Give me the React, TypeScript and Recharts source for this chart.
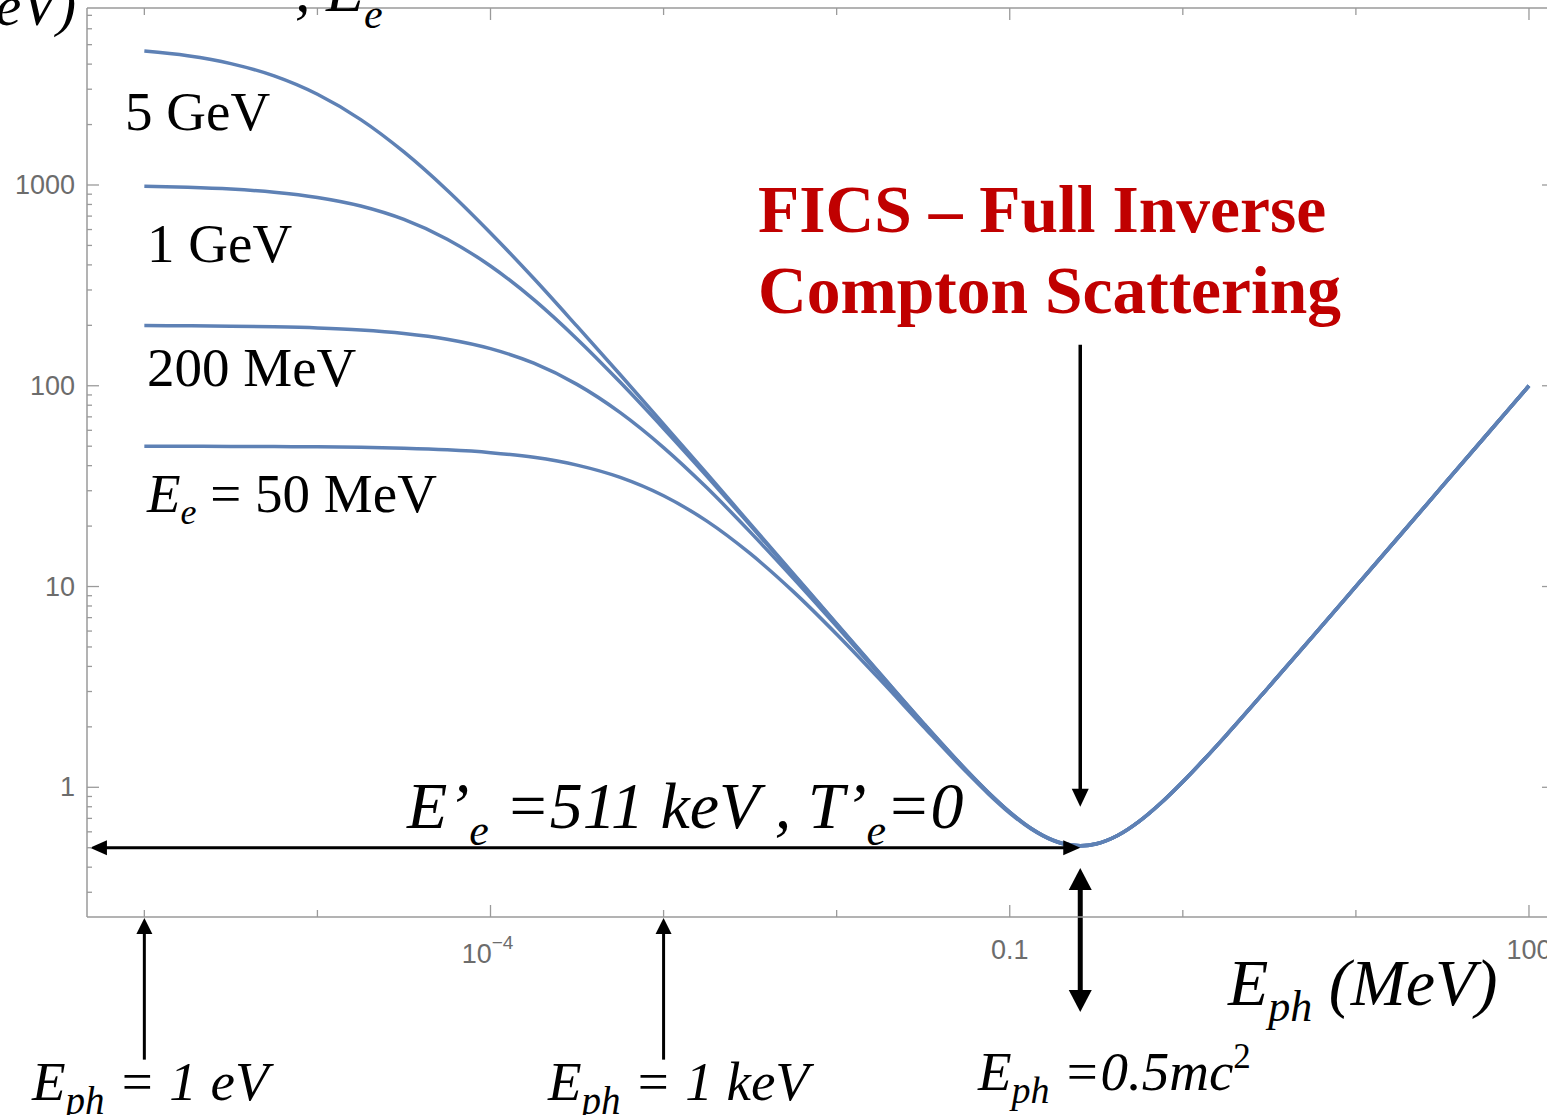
import React from 'react';
import { ComposedChart, Line, XAxis, YAxis, ReferenceLine } from 'recharts';

// Photon energy E_ph (MeV)
const eph = [1e-6, 1.78e-6, 3.16e-6, 5.62e-6, 1e-5, 1.78e-5, 3.16e-5, 5.62e-5, 1e-4, 1.78e-4,
  3.16e-4, 5.62e-4, 1e-3, 1.78e-3, 3.16e-3, 5.62e-3, 0.01, 0.0178, 0.0316, 0.0562,
  0.075, 0.1, 0.133, 0.178, 0.2, 0.256, 0.316, 0.42, 0.562, 0.75,
  1, 1.33, 1.78, 3.16, 5.62, 10, 17.8, 31.6, 56.2, 100];

// E'_e (MeV) for each initial electron energy
const e5000 = [4644, 4401, 4025, 3495, 2831, 2117, 1461, 942, 577, 342,
  198, 113.5, 64.4, 36.45, 20.56, 11.59, 6.53, 3.687, 2.095, 1.217,
  0.945, 0.753, 0.624, 0.545, 0.526, 0.511, 0.523, 0.575, 0.678, 0.837,
  1.065, 1.379, 1.815, 3.183, 5.635, 10.01, 17.8, 31.6, 56.2, 100];
const e1000 = [985, 973.5, 953.8, 920.7, 867.2, 785.9, 673.7, 537.2, 395, 268.5,
  171.1, 104, 61.28, 35.42, 20.23, 11.48, 6.495, 3.676, 2.092, 1.216,
  0.945, 0.752, 0.624, 0.545, 0.526, 0.511, 0.523, 0.575, 0.678, 0.837,
  1.065, 1.379, 1.815, 3.183, 5.635, 10.01, 17.8, 31.6, 56.2, 100];
const e200 = [199.4, 198.9, 198.1, 196.6, 194.1, 189.7, 182.3, 170.6, 153.1, 129.5,
  101.6, 73.45, 49.22, 31.02, 18.71, 10.98, 6.331, 3.623, 2.075, 1.21,
  0.942, 0.751, 0.623, 0.544, 0.526, 0.511, 0.522, 0.575, 0.678, 0.837,
  1.065, 1.379, 1.815, 3.183, 5.635, 10.01, 17.8, 31.6, 56.2, 100];
const e50 = [49.96, 49.93, 49.88, 49.79, 49.62, 49.33, 48.82, 47.94, 46.44, 44.01,
  40.25, 34.95, 28.31, 21.17, 14.61, 9.43, 5.784, 3.438, 2.014, 1.191,
  0.93, 0.744, 0.619, 0.542, 0.524, 0.51, 0.522, 0.575, 0.678, 0.837,
  1.065, 1.379, 1.815, 3.183, 5.635, 10.01, 17.8, 31.6, 56.2, 100];

const xTicks = [1e-6, 1e-5, 1e-4, 1e-3, 1e-2, 0.1, 1, 10, 100];
const xLabeled = [1e-4, 0.1, 100];
const yTicks = [0.3, 0.4, 0.5, 0.6, 0.7, 0.8, 0.9,
  1, 2, 3, 4, 5, 6, 7, 8, 9,
  10, 20, 30, 40, 50, 60, 70, 80, 90,
  100, 200, 300, 400, 500, 600, 700, 800, 900,
  1000, 2000, 3000, 4000, 5000, 6000, 7000];
const yMajor = [1, 10, 100, 1000];

const X_DOMAIN = [4.663e-7, 139.5];
const Y_DOMAIN = [0.2259, 7614];

const data = eph.map((x, i) => ({ eph: x, e50: e50[i], e200: e200[i], e1000: e1000[i], e5000: e5000[i] }));

const AXIS = '#9a9a9a';
const LABEL = '#6c6c6c';
const CURVE = '#5E81B5';
const SANS = '"Liberation Sans", Arial, sans-serif';
const SERIF = '"Liberation Serif", "Times New Roman", serif';

const isIn = (arr: number[], v: number) => arr.some((a) => Math.abs(a - v) / a < 1e-9);

const BottomTick = (p: any) => {
  const { x, y, payload } = p;
  const v = payload.value;
  const lab = isIn(xLabeled, v);
  let label: any = null;
  if (lab) {
    if (Math.abs(v - 1e-4) < 1e-12) {
      label = (
        <text x={x - 3} y={y + 46} textAnchor="middle" fontSize={27} fill={LABEL} fontFamily={SANS}>
          10<tspan dy={-14} fontSize={19}>−4</tspan>
        </text>
      );
    } else {
      label = (
        <text x={x} y={y + 42} textAnchor="middle" fontSize={27} fill={LABEL} fontFamily={SANS}>
          {v === 0.1 ? '0.1' : String(v)}
        </text>
      );
    }
  }
  return (
    <g>
      <line x1={x} y1={y} x2={x} y2={y - (lab ? 12 : 7)} stroke={AXIS} strokeWidth={1.3} />
      {label}
    </g>
  );
};

const TopTick = (p: any) => {
  const { x, y, payload } = p;
  const lab = isIn(xLabeled, payload.value);
  return <line x1={x} y1={y} x2={x} y2={y + (lab ? 12 : 7)} stroke={AXIS} strokeWidth={1.3} />;
};

const LeftTick = (p: any) => {
  const { x, y, payload } = p;
  const v = payload.value;
  const maj = isIn(yMajor, v);
  return (
    <g>
      <line x1={x} y1={y} x2={x + (maj ? 12 : 5)} y2={y} stroke={AXIS} strokeWidth={1.3} />
      {maj && (
        <text x={x - 12} y={y + 9} textAnchor="end" fontSize={27} fill={LABEL} fontFamily={SANS}>
          {String(v)}
        </text>
      )}
    </g>
  );
};

const RightTick = (p: any) => {
  const { x, y, payload } = p;
  const maj = isIn(yMajor, payload.value);
  return <line x1={x} y1={y} x2={x - (maj ? 12 : 5)} y2={y} stroke={AXIS} strokeWidth={1.3} />;
};

type ArrowSpec = { from: { x: number; y: number }; to: { x: number; y: number }; both: boolean; w: number; hl: number; hw: number };

const arrows: ArrowSpec[] = [
  { from: { x: 4.85e-7, y: 0.5 }, to: { x: 0.2555, y: 0.5 }, both: true, w: 3, hl: 17, hw: 15 },
  { from: { x: 0.2555, y: 160 }, to: { x: 0.2555, y: 0.8 }, both: false, w: 3.5, hl: 18, hw: 17 },
  { from: { x: 0.2555, y: 0.396 }, to: { x: 0.2555, y: 0.076 }, both: true, w: 5, hl: 22, hw: 23 },
  { from: { x: 1e-6, y: 0.044 }, to: { x: 1e-6, y: 0.2235 }, both: false, w: 3, hl: 16, hw: 16 },
  { from: { x: 1e-3, y: 0.044 }, to: { x: 1e-3, y: 0.2235 }, both: false, w: 3, hl: 16, hw: 16 },
];

const arrowShape = (a: ArrowSpec) => (p: any) => {
  const { x1, y1, x2, y2 } = p;
  const dx = x2 - x1;
  const dy = y2 - y1;
  const L = Math.hypot(dx, dy) || 1;
  const ux = dx / L;
  const uy = dy / L;
  const nx = -uy;
  const ny = ux;
  const head = (tx: number, ty: number, sx: number, sy: number) => {
    const bx = tx - sx * a.hl;
    const by = ty - sy * a.hl;
    return `${tx},${ty} ${bx + nx * a.hw / 2},${by + ny * a.hw / 2} ${bx - nx * a.hw / 2},${by - ny * a.hw / 2}`;
  };
  const sx0 = a.both ? x1 + ux * a.hl * 0.8 : x1;
  const sy0 = a.both ? y1 + uy * a.hl * 0.8 : y1;
  const ex = x2 - ux * a.hl * 0.8;
  const ey = y2 - uy * a.hl * 0.8;
  return (
    <g>
      <line x1={sx0} y1={sy0} x2={ex} y2={ey} stroke="#000" strokeWidth={a.w} />
      <polygon points={head(x2, y2, ux, uy)} fill="#000" />
      {a.both && <polygon points={head(x1, y1, -ux, -uy)} fill="#000" />}
    </g>
  );
};

const Overlay = () => (
  <svg width={1547} height={1115} style={{ position: 'absolute', left: 0, top: 0, pointerEvents: 'none' }}>
    <g fontFamily={SERIF} fill="#000" style={{ whiteSpace: 'pre' }}>
      {/* title pieces cut off at the top edge, as in the reference */}
      <text x={76} y={25} fontSize={58} fontStyle="italic" textAnchor="end">(MeV)</text>
      <text x={295} y={11} fontSize={62} fontStyle="italic">
        , E<tspan fontSize={42} dy={17}>e</tspan>
      </text>

      <text x={125} y={130} fontSize={55}>5 GeV</text>
      <text x={147} y={262} fontSize={55}>1 GeV</text>
      <text x={147} y={386} fontSize={55}>200 MeV</text>
      <text x={147} y={512} fontSize={55}>
        <tspan fontStyle="italic">E</tspan>
        <tspan fontStyle="italic" fontSize={36} dy={12}>e</tspan>
        <tspan dy={-12}> = 50 MeV</tspan>
      </text>

      <text x={758} y={232} fontSize={67.5} fontWeight="bold" fill="#C00000">FICS – Full Inverse</text>
      <text x={758} y={313} fontSize={67.5} fontWeight="bold" fill="#C00000">Compton Scattering</text>

      <text x={407} y={828} fontSize={66} fontStyle="italic">
        E’<tspan fontSize={44} dy={17}>e</tspan>
        <tspan dy={-17}> =511 keV , T’</tspan>
        <tspan fontSize={44} dy={17}>e</tspan>
        <tspan dy={-17}>=0</tspan>
      </text>

      <text x={1228} y={1005} fontSize={66} fontStyle="italic">
        E<tspan fontSize={44} dy={16}>ph</tspan>
        <tspan dy={-16}> (MeV)</tspan>
      </text>

      <text x={32} y={1100} fontSize={55} fontStyle="italic">
        E<tspan fontSize={39} dy={14}>ph</tspan>
        <tspan dy={-14}> = 1 eV</tspan>
      </text>
      <text x={548} y={1100} fontSize={55} fontStyle="italic">
        E<tspan fontSize={39} dy={14}>ph</tspan>
        <tspan dy={-14}> = 1 keV</tspan>
      </text>
      <text x={978} y={1090} fontSize={55} fontStyle="italic">
        E<tspan fontSize={38} dy={13}>ph</tspan>
        <tspan dy={-13}> =0.5mc</tspan>
        <tspan fontSize={35} dy={-22} fontStyle="normal">2</tspan>
      </text>
    </g>
  </svg>
);

export default function App() {
  return (
    <div style={{ position: 'absolute', left: 0, top: 0, width: 1547, height: 1115, overflow: 'hidden', background: '#fff' }}>
      <ComposedChart width={1547} height={1115} data={data} margin={{ top: 7, right: -8, bottom: 197, left: 86 }}>
        <XAxis
          dataKey="eph"
          type="number"
          scale="log"
          domain={X_DOMAIN}
          allowDataOverflow
          ticks={xTicks}
          interval={0}
          height={1}
          tickSize={0}
          tickMargin={0}
          tickLine={false}
          axisLine={{ stroke: AXIS, strokeWidth: 1.5 }}
          tick={BottomTick}
        />
        <XAxis
          xAxisId="top"
          orientation="top"
          dataKey="eph"
          type="number"
          scale="log"
          domain={X_DOMAIN}
          allowDataOverflow
          ticks={xTicks}
          interval={0}
          height={1}
          tickSize={0}
          tickMargin={0}
          tickLine={false}
          axisLine={{ stroke: AXIS, strokeWidth: 1.5 }}
          tick={TopTick}
        />
        <YAxis
          type="number"
          scale="log"
          domain={Y_DOMAIN}
          allowDataOverflow
          ticks={yTicks}
          interval={0}
          width={1}
          tickSize={0}
          tickMargin={0}
          tickLine={false}
          axisLine={{ stroke: AXIS, strokeWidth: 1.5 }}
          tick={LeftTick}
        />
        <YAxis
          yAxisId="right"
          orientation="right"
          type="number"
          scale="log"
          domain={Y_DOMAIN}
          allowDataOverflow
          ticks={yTicks}
          interval={0}
          width={1}
          tickSize={0}
          tickMargin={0}
          tickLine={false}
          axisLine={{ stroke: AXIS, strokeWidth: 1.5 }}
          tick={RightTick}
        />
        <Line type="monotone" dataKey="e50" stroke={CURVE} strokeWidth={3.5} dot={false} activeDot={false} isAnimationActive={false} />
        <Line type="monotone" dataKey="e200" stroke={CURVE} strokeWidth={3.5} dot={false} activeDot={false} isAnimationActive={false} />
        <Line type="monotone" dataKey="e1000" stroke={CURVE} strokeWidth={3.5} dot={false} activeDot={false} isAnimationActive={false} />
        <Line type="monotone" dataKey="e5000" stroke={CURVE} strokeWidth={3.5} dot={false} activeDot={false} isAnimationActive={false} />
        {arrows.map((a, i) => (
          <ReferenceLine key={i} segment={[a.from, a.to]} ifOverflow="visible" stroke="#000" shape={arrowShape(a)} />
        ))}
      </ComposedChart>
      <Overlay />
    </div>
  );
}
